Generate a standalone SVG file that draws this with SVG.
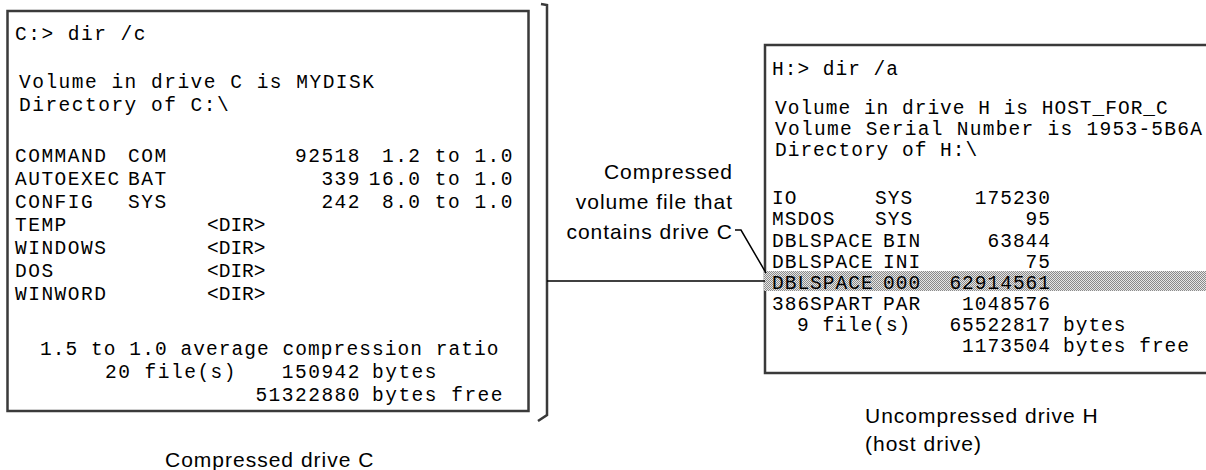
<svg xmlns="http://www.w3.org/2000/svg" width="1206" height="470" viewBox="0 0 1206 470">
<style>
.box{fill:#fff;stroke:#3a3a3a;stroke-width:2.5}
.m{font-family:"Liberation Mono","Courier New",monospace;font-size:19.5px;fill:#000;letter-spacing:1.5px}
.r{font-family:"Liberation Mono","Courier New",monospace;font-size:19.5px;fill:#000;letter-spacing:1px}
.e{text-anchor:end}
.lbl{font-family:"Liberation Sans",Arial,sans-serif;font-size:21px;fill:#000;letter-spacing:1px}
.ln{fill:none;stroke:#000;stroke-width:1.5}
.br{fill:none;stroke:#3a3a3a;stroke-width:2.5}
</style>
<defs>
<pattern id="dots" width="2" height="2" patternUnits="userSpaceOnUse">
<rect width="2" height="2" fill="#e6e6e6"/>
<rect width="1" height="1" fill="#8a8a8a"/>
<rect x="1" y="1" width="1" height="1" fill="#8a8a8a"/>
</pattern>
</defs>

<g id="drive-c">
<rect class="box" x="7.5" y="11" width="521" height="400"/>
<text class="m" x="15" y="40">C:&gt; dir /c</text>
<text class="m" x="19" y="88">Volume in drive C is MYDISK</text>
<text class="m" x="19" y="111">Directory of C:\</text>
<text class="m" x="15" y="162">COMMAND</text><text class="m" x="128" y="162">COM</text><text class="m e" x="361" y="162">92518</text><text class="m e" x="514" y="162">1.2 to 1.0</text>
<text class="m" x="15" y="185">AUTOEXEC</text><text class="m" x="128" y="185">BAT</text><text class="m e" x="361" y="185">339</text><text class="m e" x="514" y="185">16.0 to 1.0</text>
<text class="m" x="15" y="208">CONFIG</text><text class="m" x="128" y="208">SYS</text><text class="m e" x="361" y="208">242</text><text class="m e" x="514" y="208">8.0 to 1.0</text>
<text class="m" x="15" y="231">TEMP</text><text class="m" x="207" y="231" textLength="60">&lt;DIR&gt;</text>
<text class="m" x="15" y="254">WINDOWS</text><text class="m" x="207" y="254" textLength="60">&lt;DIR&gt;</text>
<text class="m" x="15" y="277">DOS</text><text class="m" x="207" y="277" textLength="60">&lt;DIR&gt;</text>
<text class="m" x="15" y="300">WINWORD</text><text class="m" x="207" y="300" textLength="60">&lt;DIR&gt;</text>
<text class="m" x="40" y="355" textLength="460">1.5 to 1.0 average compression ratio</text>
<text class="m" x="105" y="378">20 file(s)</text><text class="m e" x="361" y="378">150942</text><text class="m" x="372" y="378">bytes</text>
<text class="m e" x="361" y="401">51322880</text><text class="m" x="372" y="401">bytes free</text>
</g>

<g id="drive-h">
<rect class="box" x="765" y="45" width="500" height="328"/>
<rect x="764" y="271" width="442" height="20" fill="url(#dots)"/>
<text class="r" x="772" y="75">H:&gt; dir /a</text>
<text class="r" x="775" y="114">Volume in drive H is HOST_FOR_C</text>
<text class="r" x="775" y="135" textLength="428">Volume Serial Number is 1953-5B6A</text>
<text class="r" x="775" y="156">Directory of H:\</text>
<text class="r" x="772" y="204">IO</text><text class="r" x="875" y="204">SYS</text><text class="r e" x="1051" y="204">175230</text>
<text class="r" x="772" y="225">MSDOS</text><text class="r" x="875" y="225">SYS</text><text class="r e" x="1051" y="225">95</text>
<text class="r" x="772" y="247">DBLSPACE</text><text class="r" x="883" y="247">BIN</text><text class="r e" x="1051" y="247">63844</text>
<text class="r" x="772" y="268">DBLSPACE</text><text class="r" x="883" y="268">INI</text><text class="r e" x="1051" y="268">75</text>
<text class="r" x="772" y="289">DBLSPACE</text><text class="r" x="883" y="289">000</text><text class="r e" x="1051" y="289">62914561</text>
<text class="r" x="772" y="310">386SPART</text><text class="r" x="883" y="310">PAR</text><text class="r e" x="1051" y="310">1048576</text>
<text class="r" x="797" y="331">9 file(s)</text><text class="r e" x="1051" y="331">65522817</text><text class="r" x="1063" y="331">bytes</text>
<text class="r e" x="1051" y="352">1173504</text><text class="r" x="1063" y="352">bytes free</text>
</g>

<g id="bracket">
<path class="br" d="M541,4 L547,5 L547,415 L538,421"/>
</g>

<g id="callout">
<text class="lbl e" x="733" y="179">Compressed</text>
<text class="lbl e" x="733" y="209">volume file that</text>
<text class="lbl e" x="733" y="239">contains drive C</text>
</g>

<g id="labels">
<text class="lbl" x="165" y="467">Compressed drive C</text>
<text class="lbl" x="865" y="423">Uncompressed drive H</text>
<text class="lbl" x="865" y="451">(host drive)</text>
</g>

<g id="connectors">
<line class="ln" x1="547" y1="281" x2="765" y2="281"/>
<path class="ln" d="M735,230 L741,230 L766,273"/>
</g>
</svg>
